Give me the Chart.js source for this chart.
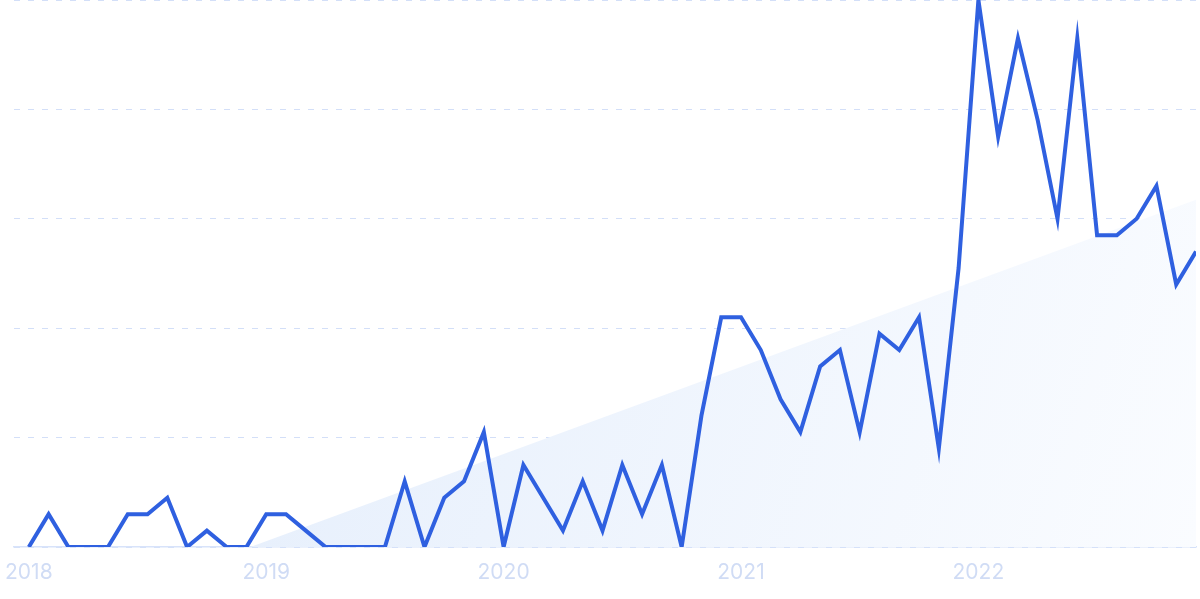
<!DOCTYPE html>
<html>
<head>
<meta charset="utf-8">
<script src="https://cdn.jsdelivr.net/npm/chart.js@4/dist/chart.umd.min.js"></script>
<style>
  html, body { margin: 0; padding: 0; background: #fff; }
  #wrap { width: 1200px; height: 599px; }
</style>
</head>
<body>
<div id="wrap"><canvas id="trendChart"></canvas></div>
<script>
// monthly interest, Jan 2018 .. Dec 2022 (index 0 = Jan 2018)
const months = [
  0,6,0,0,0,6,6,9,0,3,0,0,
  6,6,3,0,0,0,0,12,0,9,12,21,
  0,15,9,3,12,3,15,6,15,0,24,42,
  42,36,27,21,33,36,21,39,36,42,18,51,
  100,75,93,78,60,93,57,57,60,66,48,54
];
const yearTicks = [0, 12, 24, 36, 48];
const yearLabels = ['2018', '2019', '2020', '2021', '2022'];
// trend line end points: [month index, value]
const trendStart = [11.2, 0];
const trendEnd = [59, 63.5];

const points = months.map((v, i) => ({ x: i, y: v }));
const trendPts = [
  { x: trendStart[0], y: trendStart[1] },
  { x: trendEnd[0], y: trendEnd[1] }
];

const ctx = document.getElementById('trendChart').getContext('2d');
const chart = new Chart(ctx, {
    type: 'line',
    data: {
        datasets: [{
            label: 'Interest',
            data: points,
            borderColor: '#2f60e0',
            borderWidth: 4,
            pointRadius: 0,
            tension: 0,
            fill: false,
            order: 1
        }, {
            label: 'Trend',
            data: trendPts,
            borderWidth: 0,
            borderColor: 'rgba(0,0,0,0)',
            pointRadius: 0,
            fill: 'origin',
            order: 2,
            backgroundColor: (c) => {
                const area = c.chart.chartArea;
                if (!area) return '#eaf2fc';
                const g = c.chart.ctx.createLinearGradient(area.left + 250, area.top + 250, area.right, area.bottom);
                g.addColorStop(0, '#e6effc');
                g.addColorStop(1, '#fafcff');
                return g;
            }
        }]
    },
    options: {
        responsive: true,
        maintainAspectRatio: false,
        animation: false,
        layout: { padding: { left: 14, right: 4, top: 0, bottom: 0 } },
        plugins: {
            legend: { display: false },
            tooltip: { enabled: false }
        },
        scales: {
            x: {
                type: 'linear',
                min: -0.75,
                max: 59,
                afterBuildTicks: (axis) => {
                    axis.ticks = yearTicks.map(v => ({ value: v }));
                },
                afterFit: (scale) => {
                    scale.paddingLeft = 0;
                    scale.paddingRight = 0;
                    scale.height = 52;
                },
                ticks: {
                    autoSkip: false,
                    maxRotation: 0,
                    padding: 13,
                    color: '#d0dcf5',
                    font: { family: 'Inter', size: 21 },
                    callback: (v) => yearLabels[yearTicks.indexOf(v)]
                },
                grid: { display: false, drawTicks: false },
                border: { display: true, color: '#d8e3fa', width: 1.5 }
            },
            y: {
                min: 0,
                max: 100,
                afterFit: (scale) => { scale.width = 0; },
                ticks: { display: false, stepSize: 20 },
                grid: {
                    color: '#d3dff8',
                    lineWidth: 1,
                    drawTicks: false,
                    tickLength: 0
                },
                border: { display: false, dash: [6, 8] }
            }
        }
    }
});
</script>
</body>
</html>
